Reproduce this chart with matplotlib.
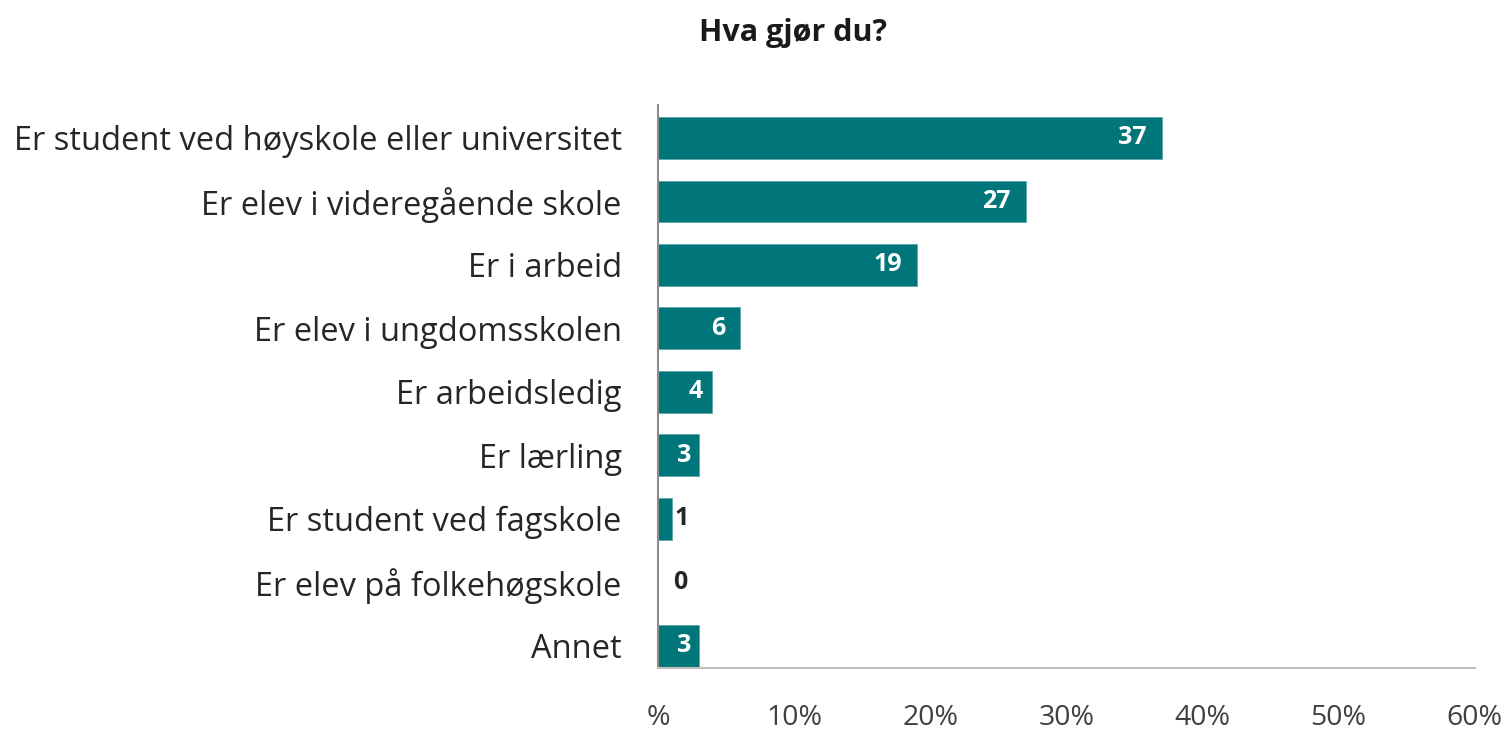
import matplotlib.pyplot as plt
import numpy as np

plt.rcParams['font.family'] = ['Open Sans', 'DejaVu Sans']

categories = ['Er student ved høyskole eller universitet',
              'Er elev i videregående skole',
              'Er i arbeid',
              'Er elev i ungdomsskolen',
              'Er arbeidsledig',
              'Er lærling',
              'Er student ved fagskole',
              'Er elev på folkehøgskole',
              'Annet']
values = [37, 27, 19, 6, 4, 3, 1, 0, 3]
xticks = [0, 10, 20, 30, 40, 50, 60]
xticklabels = ['%', '10%', '20%', '30%', '40%', '50%', '60%']

teal = '#00767B'

fig = plt.figure(figsize=(15.08, 7.32), dpi=100)
ax = fig.add_axes([0.4363, 0.0874, 0.978 - 0.4363, 0.8566 - 0.0874])

y = np.arange(len(categories))
ax.barh(y, values, height=0.66, color=teal, edgecolor='#5fa7aa', linewidth=0.6)

# value labels: inside the bar end (white) or just outside for tiny bars
for yi, v in zip(y, values):
    if v >= 3:
        ax.text(v - min(1.1, 0.17 * v), yi, str(v), ha='right', va='center',
                color='white', fontsize=18, fontweight='bold')
    else:
        ax.text(max(v + 0.25, 1.1), yi, str(v), ha='left', va='center',
                color='#262626', fontsize=18, fontweight='bold')

ax.set_ylim(len(categories) - 1 + 0.35, -0.52)
ax.set_xlim(0, 60)
ax.set_yticks(y)
ax.set_yticklabels(categories, fontsize=23.5, color='#262626')
ax.set_xticks(xticks)
ax.set_xticklabels(xticklabels, fontsize=20.5, color='#404040')
ax.tick_params(axis='both', length=0)
ax.tick_params(axis='y', pad=26)
ax.tick_params(axis='x', pad=26)

for s in ['top', 'right']:
    ax.spines[s].set_visible(False)
ax.spines['left'].set_color('#8c8c8c')
ax.spines['bottom'].set_color('#bfbfbf')
ax.spines['left'].set_linewidth(1.5)
ax.spines['bottom'].set_linewidth(1.5)

fig.text(0.526, 0.955, 'Hva gjør du?', ha='center', va='center',
         fontsize=22, fontweight='bold', color='#1a1a1a')

fig.savefig('out.png', dpi=100)
